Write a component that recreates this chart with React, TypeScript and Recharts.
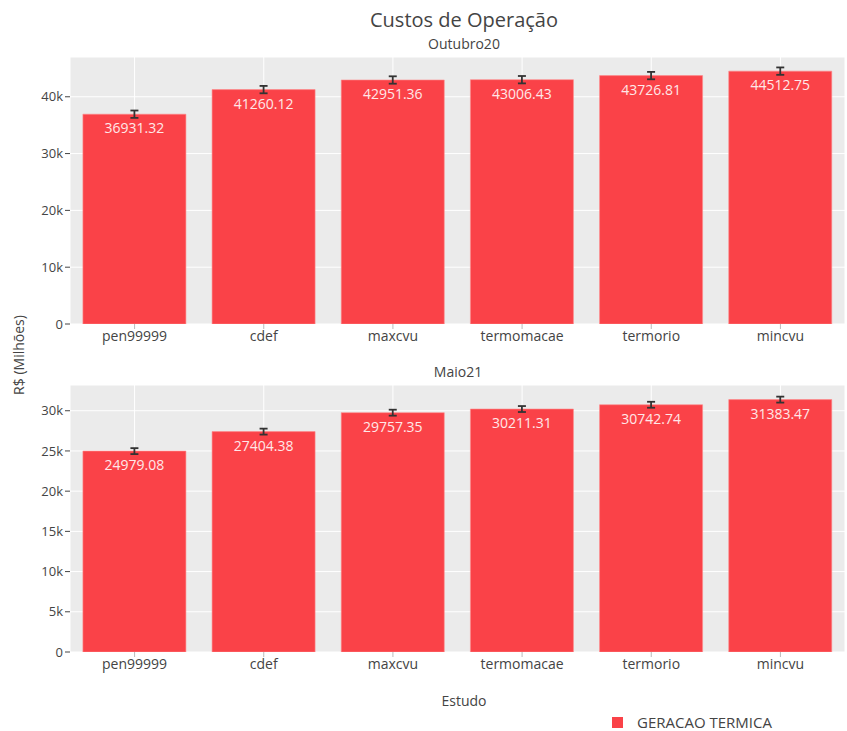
import React from "react";
import { BarChart, Bar, XAxis, YAxis, CartesianGrid, ErrorBar, LabelList } from "recharts";

const categories = ["pen99999", "cdef", "maxcvu", "termomacae", "termorio", "mincvu"];
const outubroValues = [36931.32, 41260.12, 42951.36, 43006.43, 43726.81, 44512.75];
const outubroErrors = [650, 650, 650, 650, 650, 650];
const maioValues = [24979.08, 27404.38, 29757.35, 30211.31, 30742.74, 31383.47];
const maioErrors = [370, 370, 370, 370, 370, 370];
const outubroTicks = [0, 10000, 20000, 30000, 40000];
const maioTicks = [0, 5000, 10000, 15000, 20000, 25000, 30000];

const FONT = "'Open Sans', 'Noto Sans', sans-serif";
const TEXT = "#444";
const BAR = "#FA4248";

const fmt = (v: number) => (v === 0 ? "0" : `${v / 1000}k`);

function build(values: number[], errors: number[]) {
  return categories.map((c, i) => ({ name: c, value: values[i], err: errors[i] }));
}

function Panel({ data, ticks, max }: { data: any[]; ticks: number[]; max: number }) {
  return (
    <BarChart
      width={847}
      height={297}
      data={data}
      margin={{ top: 0, right: 2, bottom: 0, left: 10 }}
      barCategoryGap="10%"
      style={{ fontFamily: FONT }}
    >
      <CartesianGrid stroke="#FFFFFF" strokeWidth={1} fill="#EBEBEB" fillOpacity={1} />
      <XAxis
        dataKey="name"
        height={30}
        axisLine={false}
        tickLine={{ stroke: "#BBB" }}
        tickSize={5}
        tick={{ fill: TEXT, fontSize: 14, fontFamily: FONT }}
        interval={0}
      />
      <YAxis
        width={60}
        domain={[0, max]}
        ticks={ticks}
        tickFormatter={fmt}
        axisLine={false}
        tickLine={{ stroke: TEXT }}
        tickSize={5}
        tick={{ fill: TEXT, fontSize: 13, fontFamily: FONT }}
        allowDataOverflow
      />
      <Bar dataKey="value" fill={BAR} stroke="#FF8A8A" strokeWidth={0.6} isAnimationActive={false}>
        <LabelList
          dataKey="value"
          position="insideTop"
          offset={9}
          fill="#FFE8E8"
          fontSize={14}
          fontFamily={FONT}
          formatter={(v: any) => Number(v).toFixed(2)}
        />
        <ErrorBar dataKey="err" width={4} stroke="#333" strokeWidth={1.8} direction="y" />
      </Bar>
    </BarChart>
  );
}

export default function App() {
  const outubro = build(outubroValues, outubroErrors);
  const maio = build(maioValues, maioErrors);
  return (
    <div style={{ position: "absolute", left: 0, top: 0, width: 847, height: 731, background: "#fff", fontFamily: FONT, color: TEXT }}>
      <div style={{ position: "absolute", left: 0, width: 928, top: 6, textAlign: "center", fontSize: 20 }}>Custos de Operação</div>
      <div style={{ position: "absolute", left: 0, width: 928, top: 34, textAlign: "center", fontSize: 14 }}>Outubro20</div>
      <div style={{ position: "absolute", left: 0, width: 916, top: 362, textAlign: "center", fontSize: 14 }}>Maio21</div>
      <div style={{ position: "absolute", left: 0, width: 928, top: 691, textAlign: "center", fontSize: 14 }}>Estudo</div>
      <div
        style={{
          position: "absolute",
          left: 18,
          top: 355,
          transform: "translate(-50%, -50%) rotate(-90deg)",
          whiteSpace: "nowrap",
          fontSize: 14,
        }}
      >
        R$ (Milhões)
      </div>
      <div style={{ position: "absolute", left: 0, top: 57 }}>
        <Panel data={outubro} ticks={outubroTicks} max={47000} />
      </div>
      <div style={{ position: "absolute", left: 0, top: 385 }}>
        <Panel data={maio} ticks={maioTicks} max={33200} />
      </div>
      <div style={{ position: "absolute", left: 612, top: 712, display: "flex", alignItems: "center", fontSize: 15 }}>
        <span style={{ display: "inline-block", width: 11, height: 11, background: BAR, marginRight: 14 }} />
        <span>GERACAO TERMICA</span>
      </div>
    </div>
  );
}
